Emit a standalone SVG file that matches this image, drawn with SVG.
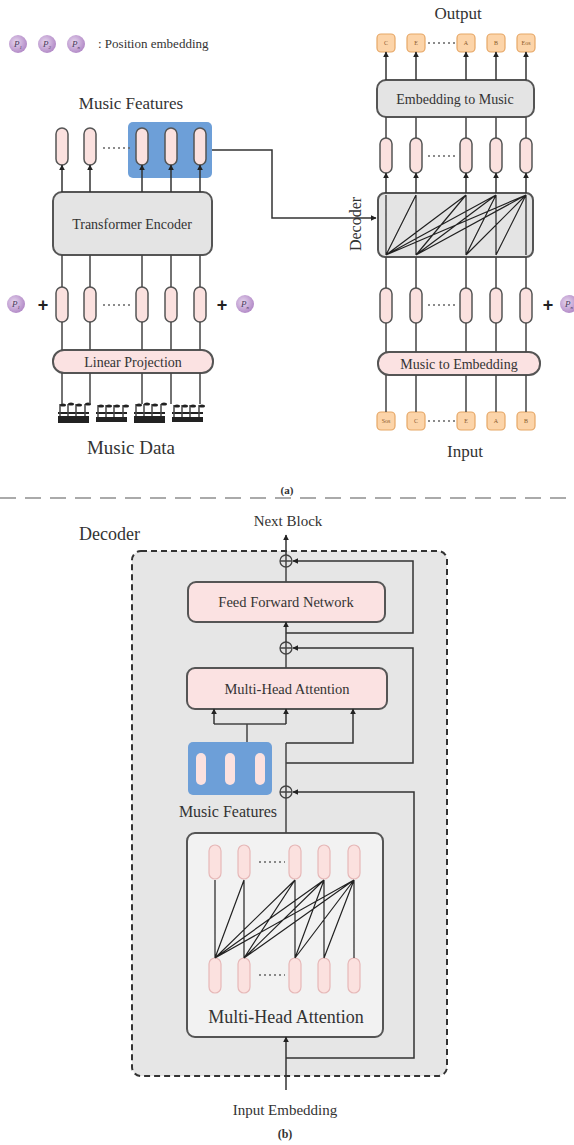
<svg xmlns="http://www.w3.org/2000/svg" width="574" height="1145" viewBox="0 0 574 1145">
<defs>
<marker id="arr" viewBox="0 0 10 10" refX="9" refY="5" markerWidth="6" markerHeight="6" markerUnits="userSpaceOnUse" orient="auto"><path d="M0,0 L10,5 L0,10 z" fill="#222"/></marker>
<radialGradient id="pg" cx="0.4" cy="0.4" r="0.6"><stop offset="0" stop-color="#e6d6ee"/><stop offset="1" stop-color="#b48cc8"/></radialGradient>
<style>
.ln{stroke:#444;stroke-width:1.5;fill:none}
.la{stroke:#333;stroke-width:1.5;fill:none;marker-end:url(#arr)}
.pill{fill:#fbe1df;stroke:#555;stroke-width:1.5}
.pill2{fill:#fbe1df;stroke:#e6b8b8;stroke-width:1.2}
.gbox{fill:#e4e4e4;stroke:#555;stroke-width:2}
.pbox{fill:#fbe2e2;stroke:#555;stroke-width:2}
.tok{fill:#fcd4a9;stroke:#e6a766;stroke-width:1.2}
.tt{font-family:"Liberation Serif",serif;fill:#333;text-anchor:middle}
.tk{font-family:"Liberation Serif",serif;font-size:6px;fill:#8a5a2a;text-anchor:middle}
.dots{stroke:#666;stroke-width:1.5;stroke-dasharray:2 3;fill:none}
.pc{fill:url(#pg)}
.pt{font-family:"Liberation Serif",serif;font-style:italic;font-size:9px;fill:#4a3a5a;text-anchor:middle}
.plus{font-family:"Liberation Sans",sans-serif;font-weight:bold;font-size:18px;fill:#222;text-anchor:middle}
.att{stroke:#222;stroke-width:1.2;fill:none}
.blue{fill:#6d9fd8}
.note{fill:#222}
.oplus{fill:#e4e4e4;stroke:#444;stroke-width:1.3}
</style>
</defs>

<!-- legend -->
<g id="legend">
<circle class="pc" cx="18" cy="44" r="9"/><text class="pt" x="18" y="47">P<tspan font-size="5" dy="2">1</tspan></text>
<circle class="pc" cx="47" cy="44" r="9"/><text class="pt" x="47" y="47">P<tspan font-size="5" dy="2">2</tspan></text>
<circle class="pc" cx="76" cy="44" r="9"/><text class="pt" x="76" y="47">P<tspan font-size="5" dy="2">n</tspan></text>
<text x="98" y="48" font-family="Liberation Serif,serif" font-size="13" fill="#333">: Position embedding</text>
</g>

<!-- ===== encoder (a) left ===== -->
<g id="music-features-a">
<rect class="blue" x="128" y="122" width="84" height="56" rx="5"/>
<text class="tt" x="131" y="109" font-size="17">Music Features</text>
</g>
<g id="enc-top-pills">
<rect class="pill" x="56" y="128" width="12" height="37" rx="6"/>
<rect class="pill" x="84" y="128" width="12" height="37" rx="6"/>
<rect class="pill" x="136" y="128" width="12" height="37" rx="6"/>
<rect class="pill" x="165" y="128" width="12" height="37" rx="6"/>
<rect class="pill" x="194" y="128" width="12" height="37" rx="6"/>
<line class="dots" x1="103" y1="148" x2="131" y2="148"/>
</g>
<g id="transformer-encoder">
<rect class="gbox" x="53" y="192" width="159" height="63" rx="9"/>
<text class="tt" x="132" y="228.5" font-size="14">Transformer Encoder</text>
</g>
<g id="enc-low-pills">
<rect class="pill" x="56" y="287" width="12" height="35" rx="6"/>
<rect class="pill" x="84" y="287" width="12" height="35" rx="6"/>
<rect class="pill" x="136" y="287" width="12" height="35" rx="6"/>
<rect class="pill" x="165" y="287" width="12" height="35" rx="6"/>
<rect class="pill" x="194" y="287" width="12" height="35" rx="6"/>
<line class="dots" x1="103" y1="305" x2="131" y2="305"/>
<circle class="pc" cx="16" cy="304" r="9"/><text class="pt" x="16" y="307">P<tspan font-size="5" dy="2">1</tspan></text>
<text class="plus" x="43" y="311">+</text>
<text class="plus" x="222" y="311">+</text>
<circle class="pc" cx="245" cy="304" r="9"/><text class="pt" x="245" y="307">P<tspan font-size="5" dy="2">n</tspan></text>
</g>
<g id="linear-projection">
<rect class="pbox" x="53" y="350" width="160" height="23" rx="11"/>
<text class="tt" x="133" y="366.5" font-size="14">Linear Projection</text>
</g>
<g id="music-data">
<g transform="translate(58,0)">
<rect class="note" x="0" y="416" width="31" height="7"/><rect class="note" x="0" y="412" width="31" height="2"/>
<line class="ln" x1="2" y1="404" x2="2" y2="416"/><line class="ln" x1="10" y1="404" x2="10" y2="416"/><line class="ln" x1="18" y1="404" x2="18" y2="416"/><line class="ln" x1="27" y1="404" x2="27" y2="416"/>
<ellipse class="note" cx="5" cy="405" rx="3" ry="1.6"/><ellipse class="note" cx="13" cy="404" rx="3" ry="1.6"/><ellipse class="note" cx="21" cy="405" rx="3" ry="1.6"/><ellipse class="note" cx="30" cy="404" rx="3" ry="1.6"/>
</g>
<g transform="translate(96,0)">
<rect class="note" x="0" y="417" width="31" height="5"/><rect class="note" x="0" y="412" width="31" height="2"/>
<line class="ln" x1="2" y1="405" x2="2" y2="417"/><line class="ln" x1="10" y1="405" x2="10" y2="417"/><line class="ln" x1="18" y1="405" x2="18" y2="417"/><line class="ln" x1="27" y1="405" x2="27" y2="417"/>
<ellipse class="note" cx="5" cy="406" rx="3" ry="1.6"/><ellipse class="note" cx="13" cy="406" rx="3" ry="1.6"/><ellipse class="note" cx="21" cy="406" rx="3" ry="1.6"/><ellipse class="note" cx="30" cy="406" rx="3" ry="1.6"/>
</g>
<g transform="translate(134,0)">
<rect class="note" x="0" y="416" width="31" height="7"/><rect class="note" x="0" y="412" width="31" height="2"/>
<line class="ln" x1="2" y1="404" x2="2" y2="416"/><line class="ln" x1="10" y1="404" x2="10" y2="416"/><line class="ln" x1="18" y1="404" x2="18" y2="416"/><line class="ln" x1="27" y1="404" x2="27" y2="416"/>
<ellipse class="note" cx="5" cy="405" rx="3" ry="1.6"/><ellipse class="note" cx="13" cy="404" rx="3" ry="1.6"/><ellipse class="note" cx="21" cy="405" rx="3" ry="1.6"/><ellipse class="note" cx="30" cy="404" rx="3" ry="1.6"/>
</g>
<g transform="translate(172,0)">
<rect class="note" x="0" y="417" width="31" height="5"/><rect class="note" x="0" y="412" width="31" height="2"/>
<line class="ln" x1="2" y1="405" x2="2" y2="417"/><line class="ln" x1="10" y1="405" x2="10" y2="417"/><line class="ln" x1="18" y1="405" x2="18" y2="417"/><line class="ln" x1="27" y1="405" x2="27" y2="417"/>
<ellipse class="note" cx="5" cy="406" rx="3" ry="1.6"/><ellipse class="note" cx="13" cy="406" rx="3" ry="1.6"/><ellipse class="note" cx="21" cy="406" rx="3" ry="1.6"/><ellipse class="note" cx="30" cy="406" rx="3" ry="1.6"/>
</g>
<text class="tt" x="131" y="454" font-size="19">Music Data</text>
</g>

<!-- ===== decoder (a) right ===== -->
<g id="output">
<text class="tt" x="458" y="19" font-size="17">Output</text>
<rect class="tok" x="377" y="34" width="18" height="18" rx="4"/><text class="tk" x="386" y="45">C</text>
<rect class="tok" x="407" y="34" width="18" height="18" rx="4"/><text class="tk" x="416" y="45">E</text>
<rect class="tok" x="457" y="34" width="18" height="18" rx="4"/><text class="tk" x="466" y="45">A</text>
<rect class="tok" x="487" y="34" width="18" height="18" rx="4"/><text class="tk" x="496" y="45">B</text>
<rect class="tok" x="517" y="34" width="18" height="18" rx="4"/><text class="tk" x="526" y="45">Eos</text>
<line class="dots" x1="428" y1="43" x2="455" y2="43"/>
</g>
<g id="embedding-to-music">
<rect class="gbox" x="377" y="80" width="157" height="37" rx="9"/>
<text class="tt" x="455" y="103.5" font-size="14">Embedding to Music</text>
</g>
<g id="dec-top-pills">
<rect class="pill" x="380" y="138" width="12" height="35" rx="6"/>
<rect class="pill" x="410" y="138" width="12" height="35" rx="6"/>
<rect class="pill" x="460" y="138" width="12" height="35" rx="6"/>
<rect class="pill" x="490" y="138" width="12" height="35" rx="6"/>
<rect class="pill" x="520" y="138" width="12" height="35" rx="6"/>
<line class="dots" x1="428" y1="156" x2="455" y2="156"/>
</g>
<g id="decoder-a">
<rect class="gbox" x="378" y="193" width="155" height="64" rx="7" fill="#dadada"/>
<text class="tt" x="0" y="0" font-size="16" transform="translate(361,224) rotate(-90)">Decoder</text>
</g>
<g id="dec-low-pills">
<rect class="pill" x="380" y="288" width="12" height="35" rx="6"/>
<rect class="pill" x="410" y="288" width="12" height="35" rx="6"/>
<rect class="pill" x="460" y="288" width="12" height="35" rx="6"/>
<rect class="pill" x="490" y="288" width="12" height="35" rx="6"/>
<rect class="pill" x="520" y="288" width="12" height="35" rx="6"/>
<line class="dots" x1="428" y1="305" x2="455" y2="305"/>
<text class="plus" x="548" y="311">+</text>
<circle class="pc" cx="569" cy="304" r="9"/><text class="pt" x="569" y="307">P<tspan font-size="5" dy="2">n</tspan></text>
</g>
<g id="music-to-embedding">
<rect class="pbox" x="378" y="352" width="162" height="23" rx="11"/>
<text class="tt" x="459" y="368.5" font-size="14">Music to Embedding</text>
</g>
<g id="input">
<rect class="tok" x="377" y="412" width="18" height="18" rx="4"/><text class="tk" x="386" y="423">Sos</text>
<rect class="tok" x="407" y="412" width="18" height="18" rx="4"/><text class="tk" x="416" y="423">C</text>
<rect class="tok" x="457" y="412" width="18" height="18" rx="4"/><text class="tk" x="466" y="423">E</text>
<rect class="tok" x="487" y="412" width="18" height="18" rx="4"/><text class="tk" x="496" y="423">A</text>
<rect class="tok" x="517" y="412" width="18" height="18" rx="4"/><text class="tk" x="526" y="423">B</text>
<line class="dots" x1="428" y1="421" x2="455" y2="421"/>
<text class="tt" x="465" y="457" font-size="17">Input</text>
</g>

<text class="tt" x="287" y="494" font-size="11" font-weight="bold">(a)</text>
<line x1="0" y1="498" x2="574" y2="498" stroke="#aaa" stroke-width="2" stroke-dasharray="16 9"/>

<!-- ===== (b) ===== -->
<g id="decoder-b">
<rect x="132" y="551" width="315" height="525" rx="9" fill="#e6e6e6" stroke="#333" stroke-width="2" stroke-dasharray="6 4"/>
<text x="79" y="540" font-family="Liberation Serif,serif" font-size="18" fill="#333">Decoder</text>
<text class="tt" x="288" y="526" font-size="15">Next Block</text>
</g>
<g id="ffn">
<rect class="pbox" x="188" y="582" width="197" height="40" rx="8"/>
<text class="tt" x="286" y="607" font-size="14.5">Feed Forward Network</text>
</g>
<g id="mha-cross">
<rect class="pbox" x="187" y="668" width="200" height="41" rx="8"/>
<text class="tt" x="287" y="693.5" font-size="14.5">Multi-Head Attention</text>
</g>
<g id="music-features-b">
<rect class="blue" x="188" y="742" width="84" height="53" rx="5"/>
<rect x="196" y="753" width="10" height="32" rx="5" fill="#fbe1df"/>
<rect x="225" y="753" width="10" height="32" rx="5" fill="#fbe1df"/>
<rect x="255" y="753" width="10" height="32" rx="5" fill="#fbe1df"/>
<text class="tt" x="228" y="817" font-size="16">Music Features</text>
</g>
<g id="mha-self">
<rect x="187" y="833" width="196" height="204" rx="8" fill="#f2f2f2" stroke="#555" stroke-width="2"/>
<rect class="pill2" x="209" y="845" width="12" height="34" rx="6"/>
<rect class="pill2" x="238" y="845" width="12" height="34" rx="6"/>
<rect class="pill2" x="289" y="845" width="12" height="34" rx="6"/>
<rect class="pill2" x="318" y="845" width="12" height="34" rx="6"/>
<rect class="pill2" x="348" y="845" width="12" height="34" rx="6"/>
<rect class="pill2" x="209" y="958" width="12" height="35" rx="6"/>
<rect class="pill2" x="238" y="958" width="12" height="35" rx="6"/>
<rect class="pill2" x="289" y="958" width="12" height="35" rx="6"/>
<rect class="pill2" x="318" y="958" width="12" height="35" rx="6"/>
<rect class="pill2" x="348" y="958" width="12" height="35" rx="6"/>
<line class="dots" x1="259" y1="862" x2="285" y2="862"/>
<line class="dots" x1="259" y1="975" x2="285" y2="975"/>
<text class="tt" x="286" y="1023" font-size="18">Multi-Head Attention</text>
</g>
<g id="oplus">
<circle class="oplus" cx="286" cy="561" r="6"/><path class="ln" d="M280 561H292M286 555V567" stroke-width="1"/>
<circle class="oplus" cx="286" cy="648" r="6"/><path class="ln" d="M280 648H292M286 642V654" stroke-width="1"/>
<circle class="oplus" cx="286" cy="792" r="6"/><path class="ln" d="M280 792H292M286 786V798" stroke-width="1"/>
</g>

<!-- connectors -->
<g id="connectors">
<!-- encoder -->
<line class="la" x1="62" y1="192" x2="62" y2="165"/>
<line class="la" x1="90" y1="192" x2="90" y2="165"/>
<line class="la" x1="142" y1="192" x2="142" y2="165"/>
<line class="la" x1="171" y1="192" x2="171" y2="165"/>
<line class="la" x1="200" y1="192" x2="200" y2="165"/>
<path class="ln" d="M62 255V287M90 255V287M142 255V287M171 255V287M200 255V287"/>
<path class="ln" d="M62 322V350M90 322V350M142 322V350M171 322V350M200 322V350"/>
<path class="ln" d="M62 373V404M90 373V404M142 373V404M171 373V404M200 373V404"/>
<path class="la" d="M212 150H272V218H376"/>
<!-- decoder a -->
<line class="la" x1="386" y1="80" x2="386" y2="52"/>
<line class="la" x1="416" y1="80" x2="416" y2="52"/>
<line class="la" x1="466" y1="80" x2="466" y2="52"/>
<line class="la" x1="496" y1="80" x2="496" y2="52"/>
<line class="la" x1="526" y1="80" x2="526" y2="52"/>
<path class="ln" d="M386 117V138M416 117V138M466 117V138M496 117V138M526 117V138"/>
<line class="la" x1="386" y1="193" x2="386" y2="173"/>
<line class="la" x1="416" y1="193" x2="416" y2="173"/>
<line class="la" x1="466" y1="193" x2="466" y2="173"/>
<line class="la" x1="496" y1="193" x2="496" y2="173"/>
<line class="la" x1="526" y1="193" x2="526" y2="173"/>
<path class="att" d="M386 195L386 255M416 195L386 255M416 195L416 255M466 195L386 255M466 195L416 255M466 195L466 255M496 195L386 255M496 195L416 255M496 195L466 255M496 195L496 255M526 195L386 255M526 195L416 255M526 195L466 255M526 195L496 255M526 195L526 255"/>
<path class="ln" d="M386 257V288M416 257V288M466 257V288M496 257V288M526 257V288"/>
<path class="ln" d="M386 323V352M416 323V352M466 323V352M496 323V352M526 323V352"/>
<path class="ln" d="M386 375V412M416 375V412M466 375V412M496 375V412M526 375V412"/>
<!-- decoder b -->
<line class="la" x1="286" y1="555" x2="286" y2="535"/>
<path class="la" d="M286 633H413V561H293"/>
<line class="ln" x1="286" y1="567" x2="286" y2="582"/>
<line class="la" x1="286" y1="642" x2="286" y2="622"/>
<path class="la" d="M286 763H413V648H293"/>
<line class="ln" x1="286" y1="654" x2="286" y2="668"/>
<path class="ln" d="M247 742V724M214 724H286"/>
<line class="la" x1="214" y1="724" x2="214" y2="709"/>
<line class="la" x1="286" y1="724" x2="286" y2="709"/>
<path class="la" d="M286 743H353V709"/>
<line class="ln" x1="286" y1="786" x2="286" y2="743"/>
<path class="la" d="M286 1058H414V792H293"/>
<line class="ln" x1="286" y1="798" x2="286" y2="833"/>
<line class="la" x1="286" y1="1090" x2="286" y2="1037"/>
<path class="att" d="M215 880L215 958M244 880L215 958M244 880L244 958M295 880L215 958M295 880L244 958M295 880L295 958M324 880L215 958M324 880L244 958M324 880L295 958M324 880L324 958M354 880L215 958M354 880L244 958M354 880L295 958M354 880L324 958M354 880L354 958"/>
</g>

<text class="tt" x="285" y="1115" font-size="15">Input Embedding</text>
<text class="tt" x="285" y="1138" font-size="12" font-weight="bold">(b)</text>
</svg>
